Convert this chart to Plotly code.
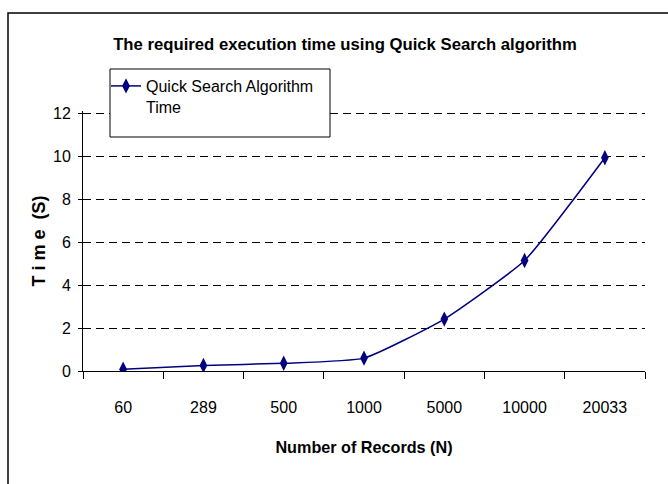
import plotly.graph_objects as go

records = ["60", "289", "500", "1000", "5000", "10000", "20033"]
times = [0.08, 0.26, 0.36, 0.60, 2.42, 5.15, 9.94]
y_ticks = [0, 2, 4, 6, 8, 10, 12]

FONT = "Liberation Sans, Arial, sans-serif"

W, H = 668, 484
YMAX = 12.12
L, R, B = 83, 23, 113
T = round(114 - (YMAX - 12) * (371 - 114) / 12)
pw, ph = W - L - R, H - T - B

def px_x(x):
    return (x - L) / pw

def px_y(y):
    return (H - B - y) / ph

fig = go.Figure()
fig.add_trace(go.Scatter(
    x=records, y=times, mode="lines+markers",
    name="Quick Search Algorithm<br>Time",
    line=dict(color="#000080", width=1.5, shape="spline", smoothing=0.45),
    marker=dict(symbol="diamond-tall", size=11, color="#000080"),
))

fig.update_layout(
    width=W, height=H,
    margin=dict(l=L, r=R, t=T, b=B, autoexpand=False),
    paper_bgcolor="white", plot_bgcolor="white",
    font=dict(family=FONT, size=16, color="black"),
    title=dict(text="<b>The required execution time using Quick Search algorithm</b>",
               x=345 / W, xref="container", xanchor="center",
               y=1 - 44 / H, yref="container", yanchor="middle",
               font=dict(family=FONT, size=16.7, color="black")),
    showlegend=True,
    legend=dict(x=px_x(106), y=px_y(69), xanchor="left", yanchor="top",
                bgcolor="rgba(0,0,0,0)", borderwidth=0,
                valign="top", font=dict(family=FONT, size=16, color="black")),
    xaxis=dict(type="category", range=[-0.5, 6.5], showline=True, linecolor="black",
               linewidth=1, ticks="outside", tickson="boundaries", ticklen=7,
               tickcolor="black", showgrid=False, ticklabelstandoff=22,
               automargin=False,
               title=dict(text="<b>Number of Records (N)</b>", standoff=26,
                          font=dict(family=FONT, size=16.2, color="black"))),
    yaxis=dict(range=[0, YMAX], tickvals=y_ticks, showline=True, linecolor="black",
               linewidth=1, ticks="outside", ticklen=4, tickcolor="black",
               ticklabelstandoff=4, zeroline=False, automargin=False,
               showgrid=True, gridcolor="black", gridwidth=1, griddash="8px,5px",
               title=dict(text="<b>T i m e  (S)</b>", standoff=2,
                          font=dict(family=FONT, size=18, color="black"))),
    shapes=[
        dict(type="rect", xref="paper", yref="paper",
             x0=px_x(8), x1=px_x(700), y0=px_y(520), y1=px_y(13),
             line=dict(color="black", width=1.5), layer="below"),
        dict(type="rect", xref="paper", yref="paper",
             x0=px_x(110), x1=px_x(330), y0=px_y(137), y1=px_y(69),
             line=dict(color="black", width=1), fillcolor="white", layer="above"),
    ],
)

fig.write_html("out.html", config={"displayModeBar": False},
               post_script="document.body.style.margin='0';")
